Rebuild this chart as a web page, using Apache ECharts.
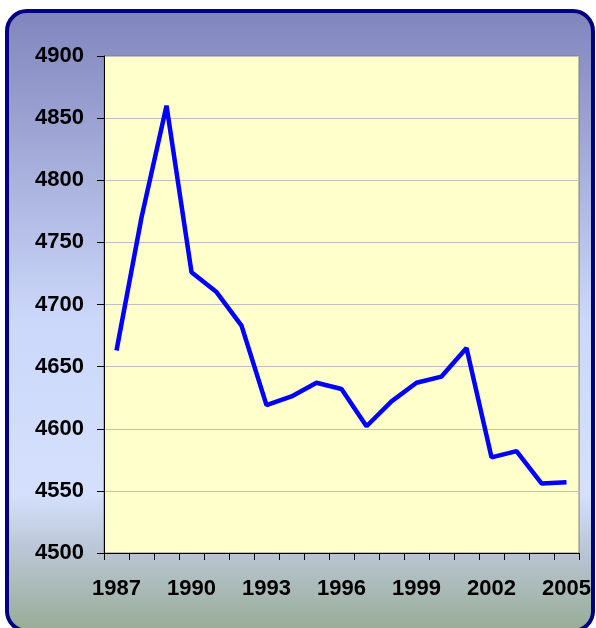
<!DOCTYPE html>
<html>
<head>
<meta charset="utf-8">
<script src="https://cdn.jsdelivr.net/npm/echarts@6/dist/echarts.min.js"></script>
<style>
  html, body { margin: 0; padding: 0; background: #fff; }
  #chart { width: 596px; height: 628px; }
</style>
</head>
<body>
<div id="chart"></div>
<script>
const years = ['1987', '1988', '1989', '1990', '1991', '1992', '1993', '1994', '1995', '1996',
  '1997', '1998', '1999', '2000', '2001', '2002', '2003', '2004', '2005'];
const values = [4663, 4770, 4860, 4726, 4710, 4683, 4619, 4626, 4637, 4632,
  4602, 4622, 4637, 4642, 4665, 4577, 4582, 4556, 4557];
const yMin = 4500;
const yMax = 4900;
const yStep = 50;

const chart = echarts.init(document.getElementById('chart'));

const labelFont = {
  color: '#000',
  fontFamily: 'Liberation Sans, Arial, sans-serif',
  fontWeight: 'bold',
  fontSize: 22
};

const option = {
  animation: false,
  backgroundColor: '#fff',
  graphic: [
    {
      type: 'rect',
      z: -1,
      shape: { x: 7, y: 11, width: 586, height: 620, r: 20 },
      style: {
        fill: new echarts.graphic.LinearGradient(0, 0, 0, 1, [
          { offset: 0, color: '#8084BC' },
          { offset: 0.5, color: '#CCD8FA' },
          { offset: 0.78, color: '#D4E0FC' },
          { offset: 0.86, color: '#BCC8D8' },
          { offset: 1, color: '#97AB94' }
        ]),
        stroke: '#000080',
        lineWidth: 4
      }
    }
  ],
  grid: {
    left: 104,
    top: 56,
    right: 17,
    bottom: 75,
    show: true,
    backgroundColor: '#FFFFCC',
    borderColor: '#808080',
    borderWidth: 1
  },
  xAxis: {
    type: 'category',
    data: years,
    boundaryGap: true,
    axisLine: { lineStyle: { color: '#000', width: 1 } },
    axisTick: { show: true, interval: 0, length: 7, lineStyle: { color: '#000' } },
    axisLabel: Object.assign({ interval: 2, margin: 25 }, labelFont),
    splitLine: { show: false }
  },
  yAxis: {
    type: 'value',
    min: yMin,
    max: yMax,
    interval: yStep,
    axisLine: { show: true, lineStyle: { color: '#000', width: 1 } },
    axisTick: { show: true, length: 7, lineStyle: { color: '#000' } },
    axisLabel: Object.assign({ margin: 20, formatter: (v) => String(v) }, labelFont),
    splitLine: { show: true, lineStyle: { color: '#C0C0C0', width: 1 } }
  },
  series: [
    {
      type: 'line',
      data: values,
      symbol: 'none',
      lineStyle: { color: '#0000FF', width: 4.5 }
    }
  ]
};

chart.setOption(option);
</script>
</body>
</html>
